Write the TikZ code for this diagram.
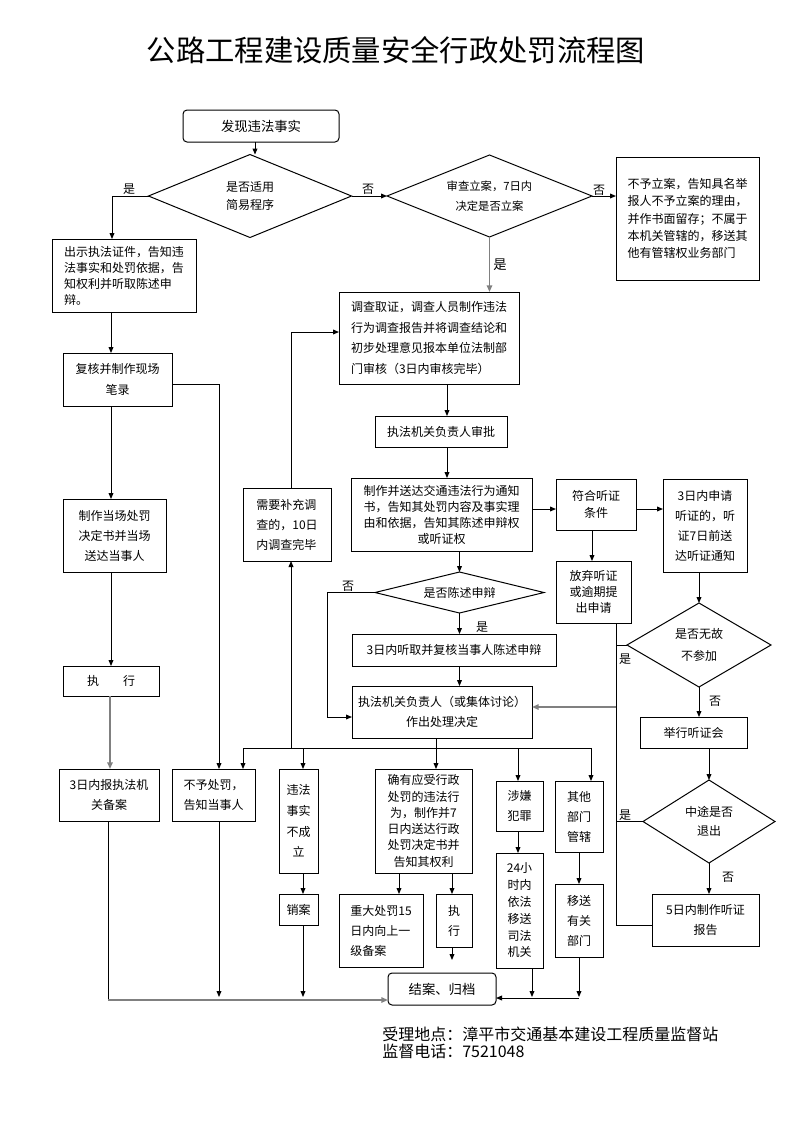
\documentclass[tikz,border=0pt]{standalone}
\usepackage{fontspec}
\setmainfont{Noto Sans CJK SC}
\usetikzlibrary{shapes.geometric,arrows.meta}
\newcommand{\fsz}[2]{\fontsize{#1}{#2}\selectfont}
\newcommand{\bx}[7][]{\node[box,minimum width={(#5-#3)*0.75pt},minimum height={(#6-#4)*0.75pt},#1] (#2) at ({(#3+#5)/2},{(#4+#6)/2}) {#7};}
\newcommand{\dm}[7][]{\node[dia,minimum width={#5*0.75pt},minimum height={#6*0.75pt},#1] (#2) at (#3,#4) {#7};}
\begin{document}
\begin{tikzpicture}[x=0.75pt,y=-0.75pt,
 box/.style={draw,line width=0.75pt,inner sep=1pt,outer sep=0pt,align=center,font=\fsz{9}{15}},
 dia/.style={draw,diamond,shape aspect=2.5,line width=0.75pt,inner sep=0pt,outer sep=0pt,align=center,font=\fsz{9}{15}},
 arr/.style={line width=0.75pt,-{Triangle[length=4.5pt,width=3.6pt]}},
 ln/.style={line width=0.75pt},
 garr/.style={line width=1.3pt,draw=gray,-{Triangle[length=5pt,width=4pt]}},
 lbl/.style={font=\fsz{9}{10},inner sep=0pt}]
\fill[white] (0,0) rectangle (793,1122);
\useasboundingbox (0,0) rectangle (793,1122);

\node[font=\fsz{22}{26}] (title) at (396,50) {公路工程建设质量安全行政处罚流程图};

% nodes
\bx[rounded corners=3pt,font=\fsz{10}{12}]{start}{183}{110}{339}{142}{发现违法事实}
\dm[font=\fsz{9}{13}]{d1}{250}{196}{203}{83}{是否适用\\简易程序}
\dm[font=\fsz{8.5}{14.5}]{d2}{489.5}{196}{205}{82}{审查立案，7日内\\决定是否立案}
\bx[align=left,font=\fsz{9}{13}]{n4}{616}{157}{759}{280}{不予立案，告知具名举\\报人不予立案的理由，\\并作书面留存；不属于\\本机关管辖的，移送其\\他有管辖权业务部门}
\bx[align=left,font=\fsz{9}{12}]{n5}{52}{239}{196}{312}{出示执法证件，告知违\\法事实和处罚依据，告\\知权利并听取陈述申\\辩。}
\bx[align=left,font=\fsz{9}{15.5}]{n6}{339}{292}{519}{384}{调查取证，调查人员制作违法\\行为调查报告并将调查结论和\\初步处理意见报本单位法制部\\门审核（3日内审核完毕）}
\bx{n7}{375}{416}{507}{447}{执法机关负责人审批}
\bx[font=\fsz{9}{12}]{n8}{351}{478}{532}{551}{制作并送达交通违法行为通知\\书，告知其处罚内容及事实理\\由和依据，告知其陈述申辩权\\或听证权}
\bx[font=\fsz{9}{13}]{n9}{556}{479}{636}{530}{符合听证\\条件}
\bx{n10}{663}{479}{747}{572}{3日内申请\\听证的，听\\证7日前送\\达听证通知}
\bx[font=\fsz{9}{12}]{n11}{556}{561}{631}{623}{放弃听证\\或逾期提\\出申请}
\dm[font=\fsz{9}{16}]{d12}{699}{645}{144}{84}{是否无故\\不参加}
\bx{n13}{640}{717}{747}{748}{举行听证会}
\dm[font=\fsz{9}{14.5}]{d14}{709}{821.5}{132}{83}{中途是否\\退出}
\bx{n15}{652}{894}{759}{946}{5日内制作听证\\报告}
\bx[font=\fsz{9}{15.5}]{n16}{63}{353}{172}{406}{复核并制作现场\\笔录}
\bx{n17}{63}{499}{166}{572}{制作当场处罚\\决定书并当场\\送达当事人}
\bx{n18}{63}{666}{159}{696}{执\hspace{2em}行}
\bx{n19}{59}{769}{159}{821}{3日内报执法机\\关备案}
\bx[align=left,font=\fsz{9}{15.5}]{n20}{172}{769}{255}{821}{不予处罚，\\告知当事人}
\bx[align=left]{n21}{243}{488}{331}{561}{需要补充调\\查的，10日\\内调查完毕}
\dm[shape aspect=4]{d22}{459.5}{592.5}{169}{41}{是否陈述申辩}
\bx{n23}{352}{634}{556}{666}{3日内听取并复核当事人陈述申辩}
\bx{n24}{352}{686}{532}{738}{执法机关负责人（或集体讨论）\\作出处理决定}
\bx[font=\fsz{9}{15.5}]{n25}{279}{769}{318}{873}{违法\\事实\\不成\\立}
\bx{n26}{279}{894}{318}{925}{销案}
\bx[font=\fsz{9}{12.2}]{n27}{375}{769}{472}{873}{确有应受行政\\处罚的违法行\\为，制作并7\\日内送达行政\\处罚决定书并\\告知其权利}
\bx[align=left]{n28}{339}{894}{423}{967}{重大处罚15\\日内向上一\\级备案}
\bx{n29}{436}{894}{472}{947}{执\\行}
\bx{n30}{496}{781}{543}{831}{涉嫌\\犯罪}
\bx[font=\fsz{9}{12.6}]{n31}{496}{853}{543}{968}{24小\\时内\\依法\\移送\\司法\\机关}
\bx{n32}{555}{781}{603}{852}{其他\\部门\\管辖}
\bx{n33}{555}{884}{603}{957}{移送\\有关\\部门}
\bx[rounded corners=3pt,font=\fsz{10}{12}]{n34}{388}{973}{496}{1005}{结案、归档}

\node[anchor=west,align=left,font=\fsz{12}{12.75},inner sep=0pt] (foot) at (382,1042.5) {受理地点：漳平市交通基本建设工程质量监督站\\监督电话：7521048};

% connectors - top
\draw[arr] (start.south -| 255,0) -- (d1.north -| 255,0);
\draw[arr] (d1.west) -| (n5.north -| 112,0);
\node[lbl] (l1) at (129,189) {是};
\draw[arr] (d1.east) -- (d2.west);
\node[lbl] (l2) at (368,189) {否};
\draw[arr] (d2.east) -- (d2.east -| n4.west);
\node[lbl] (l3) at (599,190) {否};
\draw[garr] (d2.south) -- (d2.south |- n6.north);
\node[lbl,font=\fsz{10}{11}] (l4) at (500,265) {是};

% left column
\draw[arr] (n5.south -| 111,0) -- (n16.north -| 111,0);
\draw[arr] (n16.east |- 0,384) -| (n20.north -| 219,0);
\draw[arr] (n16.south -| 111,0) -- (n17.north -| 111,0);
\draw[arr] (n17.south -| 111,0) -- (n18.north -| 111,0);
\draw[garr] (n18.south -| 110,0) -- (n19.north -| 110,0);
\coordinate (bl) at (108,1000);
\draw[ln] (n19.south -| bl) -- (bl);
\draw[garr] (bl) -- (n34.west |- bl);
\coordinate (e20) at (219,997);
\draw[arr] (n20.south -| e20) -- (e20);
\coordinate (e26) at (303,997);
\draw[arr] (n26.south -| e26) -- (e26);

% middle
\draw[arr] (n21.north -| 291,0) |- (n6.west |- 0,332);
\draw[arr] (n6.south -| 447,0) -- (n7.north -| 447,0);
\draw[arr] (n7.south -| 447,0) -- (n8.north -| 447,0);
\draw[arr] (n8.south -| d22.north) -- (d22.north);
\draw[arr] (n8.east |- 0,509) -- (n9.west |- 0,509);
\draw[arr] (n9.east |- 0,509) -- (n10.west |- 0,509);
\draw[arr] (n9.south -| 592,0) -- (n11.north -| 592,0);
\draw[arr] (d22.west) -| (327,717) -- (n24.west |- 0,717);
\node[lbl] (l5) at (348,586) {否};
\draw[arr] (d22.south) -- (d22.south |- n23.north);
\node[lbl] (l6) at (482,627) {是};
\draw[arr] (n23.south -| d22.south) -- (n24.north -| d22.south);

% right column
\draw[arr] (n10.south -| d12.north) -- (d12.north);
\draw[arr] (d12.south) -- (d12.south |- n13.north);
\node[lbl] (l7) at (625,659) {是};
\node[lbl] (l8) at (715,701) {否};
\draw[arr] (n13.south -| d14.north) -- (d14.north);
\draw[arr] (d14.south) -- (d14.south |- n15.north);
\node[lbl] (l9) at (625,815) {是};
\node[lbl] (l10) at (728,877) {否};
\coordinate (j) at (616,707);
\draw[ln] (n11.south -| j) |- (n15.west |- 0,925);
\draw[ln] (d12.west) -- (d12.west -| j);
\draw[ln] (d14.west) -- (d14.west -| j);
\draw[garr] (j) -- (n24.east |- j);

% branches
\coordinate (br) at (436,748);
\draw[ln] (n24.south -| br) -- (br);
\draw[arr] (br) -| (n20.north -| 243,0);
\draw[arr] (br) -| (n21.south -| 291,0);
\draw[arr] (br) -| (n25.north -| 303,0);
\draw[arr] (br) -- (n27.north -| br);
\draw[arr] (br) -| (n30.north -| 518,0);
\draw[arr] (br) -| (n32.north -| 591,0);

% bottom
\draw[arr] (n25.south -| 303,0) -- (n26.north -| 303,0);
\draw[arr] (n27.south -| 399,0) -- (n28.north -| 399,0);
\draw[arr] (n27.south -| 452,0) -- (n29.north -| 452,0);
\coordinate (e29) at (452,960);
\draw[arr] (n29.south -| e29) -- (e29);
\draw[arr] (n30.south -| 518,0) -- (n31.north -| 518,0);
\coordinate (e31) at (532,997);
\draw[arr] (n31.south -| e31) -- (e31);
\coordinate (e33) at (579,997);
\draw[arr] (n32.south -| e33) -- (n33.north -| e33);
\draw[arr] (n33.south -| e33) -- (e33);
\draw[arr] (579,998) -- (n34.east |- 0,998);
\end{tikzpicture}
\end{document}
